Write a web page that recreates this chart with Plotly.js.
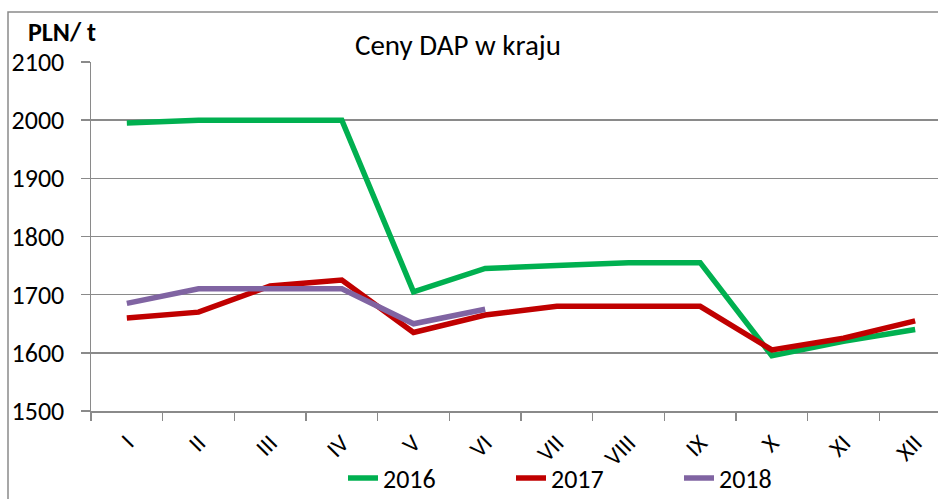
<!DOCTYPE html>
<html>
<head>
<meta charset="utf-8">
<script src="https://cdn.plot.ly/plotly-3.0.1.min.js"></script>
<style>
html,body{margin:0;padding:0;overflow:hidden;background:#fff;}
#chart{width:960px;height:499px;}
</style>
</head>
<body>
<div id="chart"></div>
<script>
const months = ["I","II","III","IV","V","VI","VII","VIII","IX","X","XI","XII"];
const y2016 = [1995,2000,2000,2000,1705,1745,1750,1755,1755,1595,1620,1640];
const y2017 = [1660,1670,1715,1725,1635,1665,1680,1680,1680,1605,1625,1655];
const months2018 = ["I","II","III","IV","V","VI"];
const y2018 = [1685,1710,1710,1710,1650,1675];

const font = "Calibri, Carlito, 'Liberation Sans', Arial, sans-serif";

const traces = [
  {x: months, y: y2016, name: "2016", type: "scatter", mode: "lines",
   line: {color: "#00B050", width: 5.5}},
  {x: months, y: y2017, name: "2017", type: "scatter", mode: "lines",
   line: {color: "#C00000", width: 5.5}},
  {x: months2018, y: y2018, name: "2018", type: "scatter", mode: "lines",
   line: {color: "#8064A2", width: 5.5}}
];

const layout = {
  width: 960, height: 499,
  margin: {l: 91, r: 9, t: 62, b: 88},
  paper_bgcolor: "#fff", plot_bgcolor: "#fff",
  showlegend: true,
  legend: {orientation: "h", xref: "container", yref: "container",
           x: 343/960, xanchor: "left", y: 1 - 478/499, yanchor: "middle",
           font: {family: font, size: 26, color: "#000"}, traceorder: "normal",
           entrywidth: 123, entrywidthmode: "pixels", borderwidth: 0,
           bgcolor: "rgba(0,0,0,0)"},
  title: {text: "Ceny DAP w kraju", xref: "container", yref: "container",
          x: 458/960, xanchor: "center", y: 1 - 45/499, yanchor: "middle",
          font: {family: font, size: 29, color: "#000"}},
  xaxis: {type: "category", categoryorder: "array", categoryarray: months,
          range: [-0.5, 11.5], tickson: "boundaries", ticks: "outside", ticklen: 8,
          tickcolor: "#8a8a8a", tickwidth: 1.5, showline: true, linecolor: "#8a8a8a",
          linewidth: 1.5, showgrid: false, tickangle: -45, automargin: false,
          ticklabelstandoff: 7,
          tickfont: {family: font, size: 24, color: "#000"}, fixedrange: true},
  yaxis: {range: [1500, 2100], dtick: 100, tick0: 1500, ticks: "outside", ticklen: 9,
          tickcolor: "#8a8a8a", tickwidth: 1.5, showline: true, linecolor: "#8a8a8a",
          linewidth: 1.5, showgrid: true, gridcolor: "#8a8a8a", gridwidth: 1.5,
          zeroline: false, ticklabelstandoff: 11, automargin: false,
          tickfont: {family: font, size: 26, color: "#000"}, fixedrange: true},
  annotations: [
    {text: "<b>PLN/ t</b>", xref: "paper", yref: "paper", x: (26-91)/860, y: (411-32)/349,
     xanchor: "left", yanchor: "middle", showarrow: false,
     font: {family: font, size: 26, color: "#000"}}
  ],
  shapes: [
    {type: "rect", xref: "paper", yref: "paper", x0: (8-91)/860, x1: 1.5, y0: -0.6, y1: (411-12)/349,
     line: {color: "#8a8a8a", width: 1.5}, fillcolor: "rgba(0,0,0,0)", layer: "below"}
  ]
};

Plotly.newPlot("chart", traces, layout, {displayModeBar: false, staticPlot: true});
</script>
</body>
</html>
